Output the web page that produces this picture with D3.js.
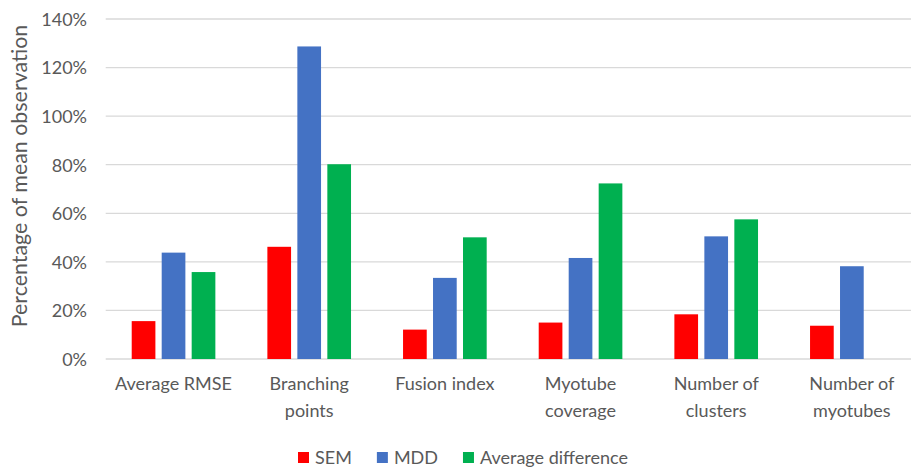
<!DOCTYPE html>
<html><head><meta charset="utf-8">
<script src="https://cdn.jsdelivr.net/npm/d3@7"></script>
<style>
html,body{margin:0;padding:0;background:#fff;}
svg text{font-family:Lato,"Open Sans",sans-serif;fill:#595959;}
</style></head>
<body><svg id="chart" width="911" height="471"></svg>
<script>
const categories = ["Average RMSE","Branching points","Fusion index","Myotube coverage","Number of clusters","Number of myotubes"];
const seriesNames = ["SEM","MDD","Average difference"];
const semValues = [0.156, 0.462, 0.121, 0.150, 0.184, 0.137];
const mddValues = [0.438, 1.287, 0.334, 0.416, 0.505, 0.382];
const avgDiffValues = [0.358, 0.802, 0.501, 0.723, 0.575, null];
const seriesColors = ["#FF0000","#4472C4","#00B050"];
const yTicks = [0,0.2,0.4,0.6,0.8,1.0,1.2,1.4];

const seriesValues = [semValues, mddValues, avgDiffValues];
const svg = d3.select("#chart");
const pLeft = 105.7, pRight = 919.7, pTop = 19, pBottom = 359;

const x0 = d3.scaleBand().domain(categories).range([pLeft,pRight]).paddingInner(0.337).paddingOuter(0.1685);
const x1 = d3.scaleBand().domain(seriesNames).range([0,x0.bandwidth()]).paddingInner(0.21).paddingOuter(0.105);
const y = d3.scaleLinear().domain([0,1.4]).range([pBottom,pTop]);

// gridlines
svg.append("g").selectAll("line").data(yTicks).join("line")
  .attr("x1",pLeft).attr("x2",pRight)
  .attr("y1",d=>y(d)).attr("y2",d=>y(d))
  .attr("stroke","#d9d9d9").attr("stroke-width",1.3);

// y axis labels
const yAxis = d3.axisLeft(y).tickValues(yTicks).tickSize(0).tickPadding(0).tickFormat(d3.format(".0%"));
const gy = svg.append("g").attr("transform",`translate(87,0)`).call(yAxis);
gy.select(".domain").remove();
gy.selectAll("text").attr("font-size",18).style("font-family","Lato").attr("fill","#595959").attr("dy","0.35em");

// bars
const groups = svg.append("g").selectAll("g").data(categories).join("g")
  .attr("transform",d=>`translate(${x0(d)},0)`);
groups.selectAll("rect").data((c,i)=>seriesNames.map((s,j)=>({s, v: seriesValues[j][i], color: seriesColors[j]})).filter(d=>d.v!=null))
  .join("rect")
  .attr("x",d=>x1(d.s)).attr("width",x1.bandwidth())
  .attr("y",d=>y(d.v)).attr("height",d=>y(0)-y(d.v))
  .attr("fill",d=>d.color);

// x axis labels
const xAxis = d3.axisBottom(x0).tickSize(0).tickPadding(0);
const gx = svg.append("g").attr("transform",`translate(0,${pBottom})`).call(xAxis);
gx.select(".domain").remove();
gx.selectAll("text").attr("font-size",18).style("font-family","Lato").attr("fill","#595959")
  .each(function(d){
    const t = d3.select(this);
    t.text(null).attr("y",0).attr("dy",null);
    const words = d.split(" ");
    let lines=[], cur=[];
    const measure = t.append("tspan");
    words.forEach(w=>{
      const test = cur.concat([w]).join(" ");
      measure.text(test);
      if(measure.node().getComputedTextLength()>122 && cur.length){ lines.push(cur.join(" ")); cur=[w]; }
      else cur.push(w);
    });
    lines.push(cur.join(" "));
    measure.remove();
    lines.forEach((l,i)=>t.append("tspan").attr("x",0).attr("y",31+i*27).text(l));
  });

// y title
svg.append("text").attr("transform",`translate(27,176) rotate(-90)`)
  .attr("text-anchor","middle").attr("font-size",21.4).text("Percentage of mean observation");

// legend
const legendItems = seriesNames.map((s,i)=>({s,color:seriesColors[i]}));
const lg = svg.append("g");
let lx = 298;
legendItems.forEach(d=>{
  lg.append("rect").attr("x",lx).attr("y",452).attr("width",11).attr("height",11).attr("fill",d.color);
  const t = lg.append("text").attr("x",lx+17).attr("y",463.5).attr("font-size",18).text(d.s);
  lx += 17 + t.node().getComputedTextLength() + 25;
});
</script></body></html>
